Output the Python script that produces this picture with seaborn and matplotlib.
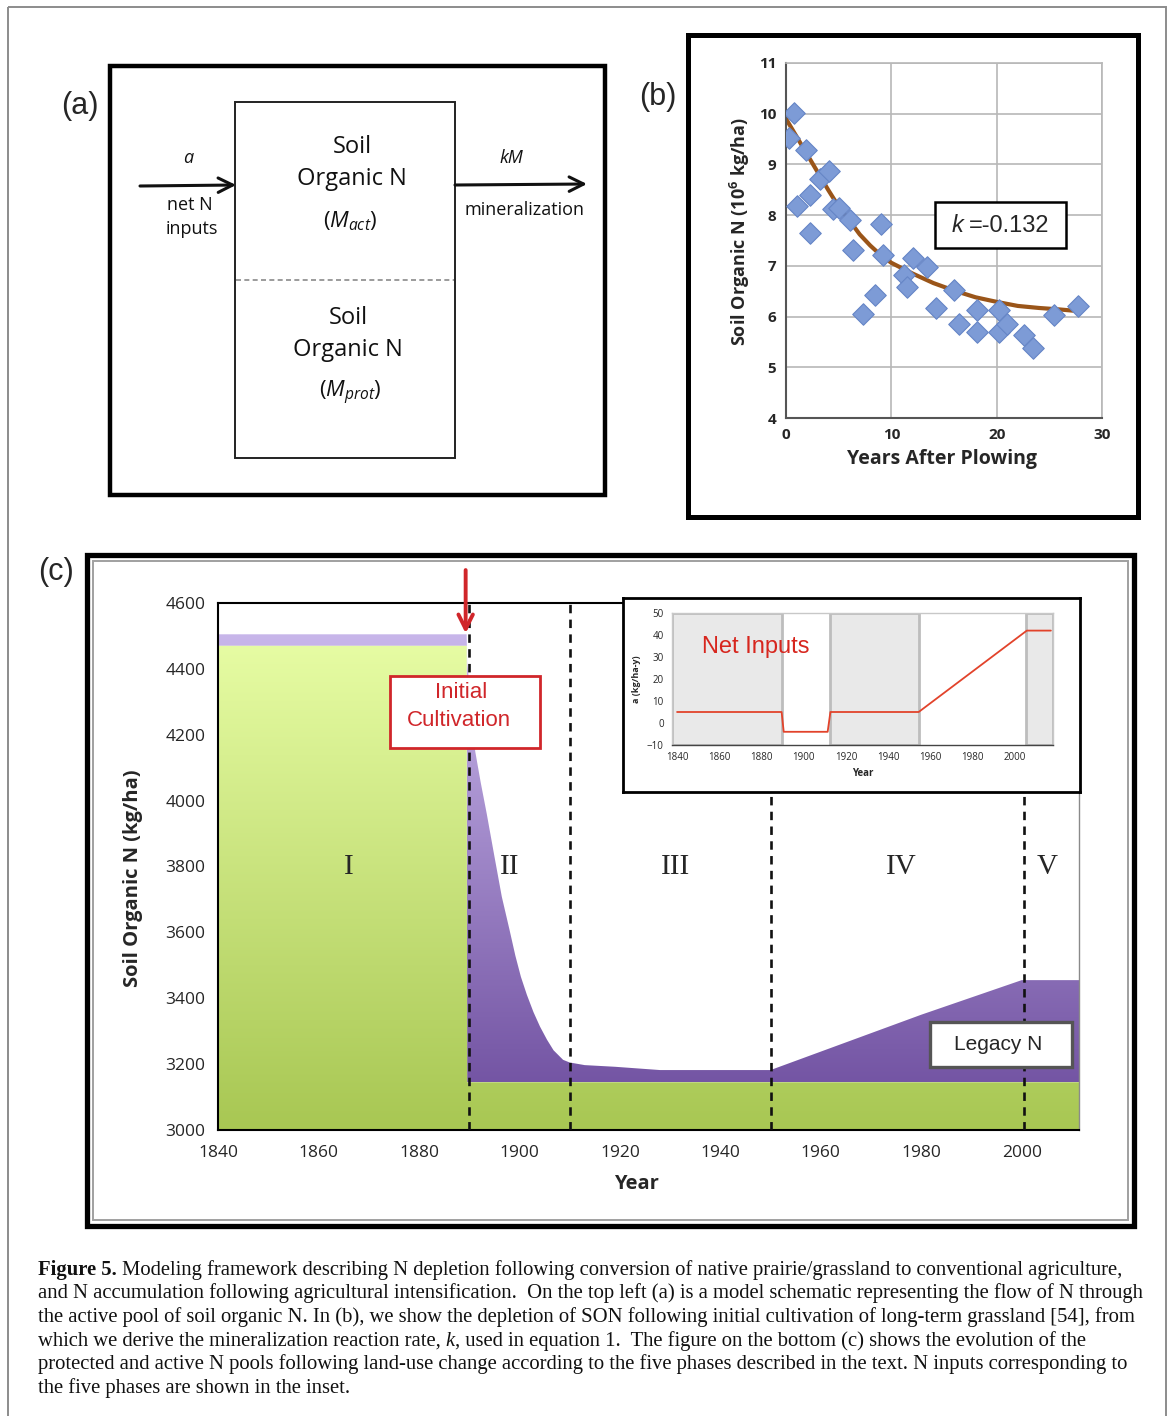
import numpy as np
import matplotlib
matplotlib.use("Agg")
import matplotlib.pyplot as plt
import seaborn as sns
from matplotlib.patches import Rectangle
from matplotlib.colors import LinearSegmentedColormap

# ---------------------------------------------------------------- data
# (b) SON after plowing
plow_years = [0.25, 0.73, 1.04, 1.9, 2.28, 2.28, 3.26, 4.1, 4.43, 5.0, 6.08, 6.33,
              7.28, 8.48, 9.02, 9.18, 11.23, 11.46, 12.09, 13.35, 14.24, 15.98,
              16.46, 18.16, 18.16, 20.25, 20.25, 20.98, 22.63, 23.48, 25.41, 27.69]
plow_son = [9.53, 10.01, 8.19, 9.28, 8.39, 7.64, 8.72, 8.88, 8.13, 8.15, 7.90, 7.31,
            6.05, 6.43, 7.82, 7.22, 6.82, 6.58, 7.15, 6.98, 6.16, 6.52,
            5.85, 6.13, 5.69, 6.13, 5.69, 5.85, 5.64, 5.39, 6.03, 6.21]
fit_years = [0, 1, 2, 3, 4, 5, 6, 7, 8, 9, 10, 12, 14, 16, 18, 20, 22, 24, 26, 27.6]
fit_son = [9.90, 9.55, 9.20, 8.85, 8.50, 8.17, 7.90, 7.62, 7.40, 7.21, 7.06, 6.85,
           6.66, 6.51, 6.38, 6.29, 6.21, 6.17, 6.14, 6.11]
k_label = "=-0.132"

# (c) soil organic N pools
son_years = [1840, 1889.5, 1889.6, 1890.2, 1891.2, 1892.3, 1893.5, 1895, 1896.5,
             1898, 1899.2, 1900.3, 1901.5, 1902.8, 1904.1, 1905.5, 1906.8, 1908.7,
             1910, 1913, 1919, 1928, 1950, 1980, 2000, 2011.4]
son_total = [4505, 4505, 4420, 4330, 4150, 4055, 3960, 3833, 3708,
             3610, 3529, 3465, 3410, 3358, 3314, 3274, 3242, 3213,
             3205, 3197, 3192, 3182, 3182, 3350, 3455, 3455]
son_protected = [4470, 4470, 3145, 3145, 3145, 3145, 3145, 3145, 3145,
                 3145, 3145, 3145, 3145, 3145, 3145, 3145, 3145, 3145,
                 3145, 3145, 3145, 3145, 3145, 3145, 3145, 3145]
phase_bounds = [1890, 1910, 1950, 2000.4]
phase_labels = ["I", "II", "III", "IV", "V"]
phase_label_years = [1866, 1898, 1931, 1976, 2005]
c_yticks = [3000, 3200, 3400, 3600, 3800, 4000, 4200, 4400, 4600]
c_xticks = [1840, 1860, 1880, 1900, 1920, 1940, 1960, 1980, 2000]

# inset: net N inputs
inset_years = [1840, 1889.5, 1890.5, 1911.3, 1912.6, 1954.4, 2005.6, 2017]
inset_inputs = [5, 5, -4, -4, 5, 5, 42, 42]
inset_shaded = [(1837.6, 1889.7), (1912.6, 1954.7), (2005.3, 2018)]

caption_lines = [
    [("Figure 5.", "bold", "normal"),
     (" Modeling framework describing N depletion following conversion of native prairie/grassland to conventional agriculture,", "normal", "normal")],
    [("and N accumulation following agricultural intensification.  On the top left (a) is a model schematic representing the flow of N through", "normal", "normal")],
    [("the active pool of soil organic N. In (b), we show the depletion of SON following initial cultivation of long-term grassland [54], from", "normal", "normal")],
    [("which we derive the mineralization reaction rate,", "normal", "normal"),
     (" k", "normal", "italic"),
     (", used in equation 1.  The figure on the bottom (c) shows the evolution of the", "normal", "normal")],
    [("protected and active N pools following land-use change according to the five phases described in the text. N inputs corresponding to", "normal", "normal")],
    [("the five phases are shown in the inset.", "normal", "normal")],
]

# ---------------------------------------------------------------- style
sns.set_theme(style="white")
plt.rcParams["font.family"] = ["Open Sans", "DejaVu Sans"]
plt.rcParams["mathtext.fontset"] = "custom"
plt.rcParams["mathtext.rm"] = "Open Sans"
plt.rcParams["mathtext.it"] = "Open Sans:italic"
plt.rcParams["mathtext.bf"] = "Open Sans:bold"

W, H = 1173, 1416
fig = plt.figure(figsize=(W / 100, H / 100), dpi=100)
fig.patch.set_facecolor("white")


def px_axes(x0, y0, x1, y1, **kw):
    return fig.add_axes([x0 / W, 1 - y1 / H, (x1 - x0) / W, (y1 - y0) / H], **kw)


bg = fig.add_axes([0, 0, 1, 1])
bg.set_xlim(0, W)
bg.set_ylim(H, 0)
bg.axis("off")

# page frame
bg.add_patch(Rectangle((8, 7), 1158, 1430, fill=False, ec="#8c8c8c", lw=1.4))

# ---------------------------------------------------------------- (a) schematic
bg.add_patch(Rectangle((110, 66), 495, 429, fill=False, ec="black", lw=3.2))
bg.add_patch(Rectangle((235, 102), 220, 356, fill=False, ec="#222222", lw=1.4))
bg.plot([236, 454], [280, 280], color="#8a8a8a", lw=1.2, dashes=(3, 2))
arrow_kw = dict(arrowstyle="->", lw=2.2, color="#111111", mutation_scale=26,
                shrinkA=0, shrinkB=0)
bg.annotate("", xy=(236, 185), xytext=(140, 186), arrowprops=arrow_kw)
bg.annotate("", xy=(587, 184), xytext=(455, 185), arrowprops=arrow_kw)
schem = dict(ha="center", va="center", color="#111111")
bg.text(188, 158, "a", fontsize=13, fontstyle="italic", **schem)
bg.text(190, 205, "net N", fontsize=13, **schem)
bg.text(192, 229, "inputs", fontsize=13, **schem)
bg.text(511, 158, "kM", fontsize=13, fontstyle="italic", **schem)
bg.text(525, 210, "mineralization", fontsize=13, **schem)
bg.text(352, 147, "Soil", fontsize=17, **schem)
bg.text(352, 179, "Organic N", fontsize=17, **schem)
bg.text(350, 221, r"$(M_{act})$", fontsize=16, **schem)
bg.text(348, 318, "Soil", fontsize=17, **schem)
bg.text(348, 350, "Organic N", fontsize=17, **schem)
bg.text(350, 393, r"$(M_{prot})$", fontsize=16, **schem)

# panel letters
for lx, ly, s in [(80, 106, "(a)"), (658, 97, "(b)"), (56, 572, "(c)")]:
    bg.text(lx, ly, s, fontsize=22, family="Liberation Sans", ha="center", va="center")

# panel frames
bg.add_patch(Rectangle((688, 35), 450, 482, fill=False, ec="black", lw=3.6))
bg.add_patch(Rectangle((87, 555), 1047, 671, fill=False, ec="black", lw=3.8))
bg.add_patch(Rectangle((93, 561), 1035, 659, fill=False, ec="#a0a0a0", lw=1.4))

# ---------------------------------------------------------------- (b) scatter + fit
axb = px_axes(786, 63, 1102, 418)
sns.lineplot(x=fit_years, y=fit_son, color="#9a5519", lw=3.0, ax=axb, zorder=2)
sns.scatterplot(x=plow_years, y=plow_son, marker="D", s=120, color="#7d9bd6",
                edgecolor="#6585c6", linewidth=0.8, ax=axb, zorder=3)
axb.set_xlim(0, 30)
axb.set_ylim(4, 11)
axb.set_xticks([0, 10, 20, 30])
axb.set_yticks(range(4, 12))
axb.grid(True, color="#b8b8b8", lw=1.2)
axb.set_axisbelow(True)
for side in ["top", "right"]:
    axb.spines[side].set_color("#b8b8b8")
    axb.spines[side].set_linewidth(1.2)
for side in ["left", "bottom"]:
    axb.spines[side].set_color("#555555")
    axb.spines[side].set_linewidth(1.5)
axb.tick_params(direction="out", length=4, width=1.2, color="#555555", pad=3)
for lab in axb.get_xticklabels() + axb.get_yticklabels():
    lab.set_fontweight("bold")
    lab.set_fontsize(11)
axb.set_xlabel("")
axb.set_ylabel("")
bg.text(740, 232, r"Soil Organic N (10$^{\mathbf{6}}$ kg/ha)", rotation=90, fontsize=13,
        fontweight="bold", ha="center", va="center")
bg.text(942, 459, "Years After Plowing", fontsize=14, fontweight="bold",
        ha="center", va="center")

# ---------------------------------------------------------------- (c) main
axc = px_axes(218, 603, 1079, 1130)
xl = (1840, 2011.4)
grad = np.linspace(0, 1, 256).reshape(-1, 1)

green_cmap = LinearSegmentedColormap.from_list("green", ["#a8c753", "#e6fca3"])
purple_cmap = LinearSegmentedColormap.from_list("purple", ["#7455a4", "#c8b6ea"])

poly_p = axc.fill_between(son_years, son_protected, son_total, color="none", lw=0)
im_p = axc.imshow(grad, extent=[xl[0], xl[1], 3145, 4505], origin="lower",
                  cmap=purple_cmap, aspect="auto", zorder=1, interpolation="bilinear")
im_p.set_clip_path(poly_p.get_paths()[0], transform=axc.transData)

poly_g = axc.fill_between(son_years, 3000, son_protected, color="none", lw=0)
im_g = axc.imshow(grad, extent=[xl[0], xl[1], 3000, 4470], origin="lower",
                  cmap=green_cmap, aspect="auto", zorder=1, interpolation="bilinear")
im_g.set_clip_path(poly_g.get_paths()[0], transform=axc.transData)

for xb in phase_bounds:
    axc.axvline(xb, color="#111111", lw=1.9, dashes=(3.2, 2.4), zorder=3)
for yr, lab in zip(phase_label_years, phase_labels):
    axc.text(yr, 3800, lab, fontsize=21, family="Liberation Serif",
             ha="center", va="center", zorder=4)

axc.set_xlim(*xl)
axc.set_ylim(3000, 4600)
axc.set_xticks(c_xticks)
axc.set_yticks(c_yticks)
axc.tick_params(direction="in", length=6, width=1.2, labelsize=12.5, pad=9)
axc.tick_params(axis="x", pad=11)
for side in ["left", "bottom", "top"]:
    axc.spines[side].set_color("black")
    axc.spines[side].set_linewidth(1.5)
axc.spines["right"].set_color("#8a8a8a")
axc.spines["right"].set_linewidth(1.0)
bg.text(133, 878, "Soil Organic N (kg/ha)", rotation=90, fontsize=14.5,
        fontweight="bold", ha="center", va="center")
bg.text(636, 1184, "Year", fontsize=14.5, fontweight="bold", ha="center", va="center")

# red arrow marking first cultivation
axc.annotate("", xy=(1889.3, 4508), xytext=(1889.3, 4700), annotation_clip=False,
             arrowprops=dict(arrowstyle="->", lw=2.8, color="#d0262a",
                             mutation_scale=26, shrinkA=0, shrinkB=0))

# ---------------------------------------------------------------- inset
axbox = px_axes(623, 598, 1080, 792)
axbox.set_xticks([])
axbox.set_yticks([])
axbox.set_facecolor("white")
for s in axbox.spines.values():
    s.set_color("black")
    s.set_linewidth(2.0)

axi = px_axes(672, 613, 1053, 745)
for a0, a1 in inset_shaded:
    axi.axvspan(a0, a1, facecolor="#e9e9e9", edgecolor="#bdbdbd", lw=2.0, zorder=0)
sns.lineplot(x=inset_years, y=inset_inputs, color="#e2432b", lw=1.3, ax=axi, zorder=2)
axi.set_xlim(1837.6, 2018)
axi.set_ylim(-10, 50)
axi.set_xticks(c_xticks)
axi.set_yticks([-10, 0, 10, 20, 30, 40, 50])
axi.tick_params(direction="in", length=3, width=0.8, labelsize=7, pad=5, color="#555555")
axi.tick_params(axis="y", length=0, pad=6)
for s in ["top", "right", "left"]:
    axi.spines[s].set_color("#c8c8c8")
    axi.spines[s].set_linewidth(1.0)
axi.spines["bottom"].set_color("#444444")
axi.spines["bottom"].set_linewidth(1.0)
axi.set_xlabel("Year", fontsize=7, fontweight="bold", labelpad=4)
axi.set_ylabel("a (kg/ha-y)", fontsize=6.5, fontweight="bold", labelpad=4)
axi.text(1877.4, 34.5, "Net Inputs", fontsize=17, color="#d7261e",
         family="Liberation Sans", ha="center", va="center")

# ---------------------------------------------------------------- overlay boxes
top = fig.add_axes([0, 0, 1, 1], zorder=20)
top.set_xlim(0, W)
top.set_ylim(H, 0)
top.axis("off")
top.patch.set_alpha(0)

top.add_patch(Rectangle((935, 202), 131, 46, fc="white", ec="black", lw=1.8))
top.text(958, 226, "k", fontsize=17, fontstyle="italic", family="Liberation Sans",
         ha="center", va="center")
top.text(1009, 226, k_label, fontsize=17, family="Liberation Sans", ha="center", va="center")

top.add_patch(Rectangle((390, 676), 150, 72, fc="white", ec="#d0262a", lw=2.0))
top.text(461, 693, "Initial", fontsize=16, color="#d0262a", family="Liberation Sans",
         ha="center", va="center")
top.text(459, 720, "Cultivation", fontsize=16, color="#d0262a", family="Liberation Sans",
         ha="center", va="center")

top.add_patch(Rectangle((930, 1022), 142, 45, fc="white", ec="#555555", lw=2.4))
top.text(998, 1045, "Legacy N", fontsize=15, family="Liberation Sans",
         ha="center", va="center")

# ---------------------------------------------------------------- caption
renderer = fig.canvas.get_renderer()


def text_width(s, size, weight="normal", style="normal"):
    t = bg.text(0, 0, s, fontsize=size, fontweight=weight, fontstyle=style,
                family="Liberation Serif")
    w = t.get_window_extent(renderer).width
    t.remove()
    return w


first_line = "".join(r[0] for r in caption_lines[0])
cap_size = 12 * 1080 / text_width(first_line, 12)
space_w = text_width("x x", cap_size) - text_width("xx", cap_size)
line_y = [1270, 1293, 1317, 1341, 1364, 1388]
for ly, runs in zip(line_y, caption_lines):
    x = 38
    for s, wt, st in runs:
        lead = len(s) - len(s.lstrip(" "))
        s2 = s.lstrip(" ")
        x += lead * space_w
        bg.text(x, ly, s2, fontsize=cap_size, fontweight=wt, fontstyle=st,
                family="Liberation Serif", ha="left", va="center", color="#111111")
        x += text_width(s2, cap_size, wt, st)

fig.savefig("out.png", dpi=100)
